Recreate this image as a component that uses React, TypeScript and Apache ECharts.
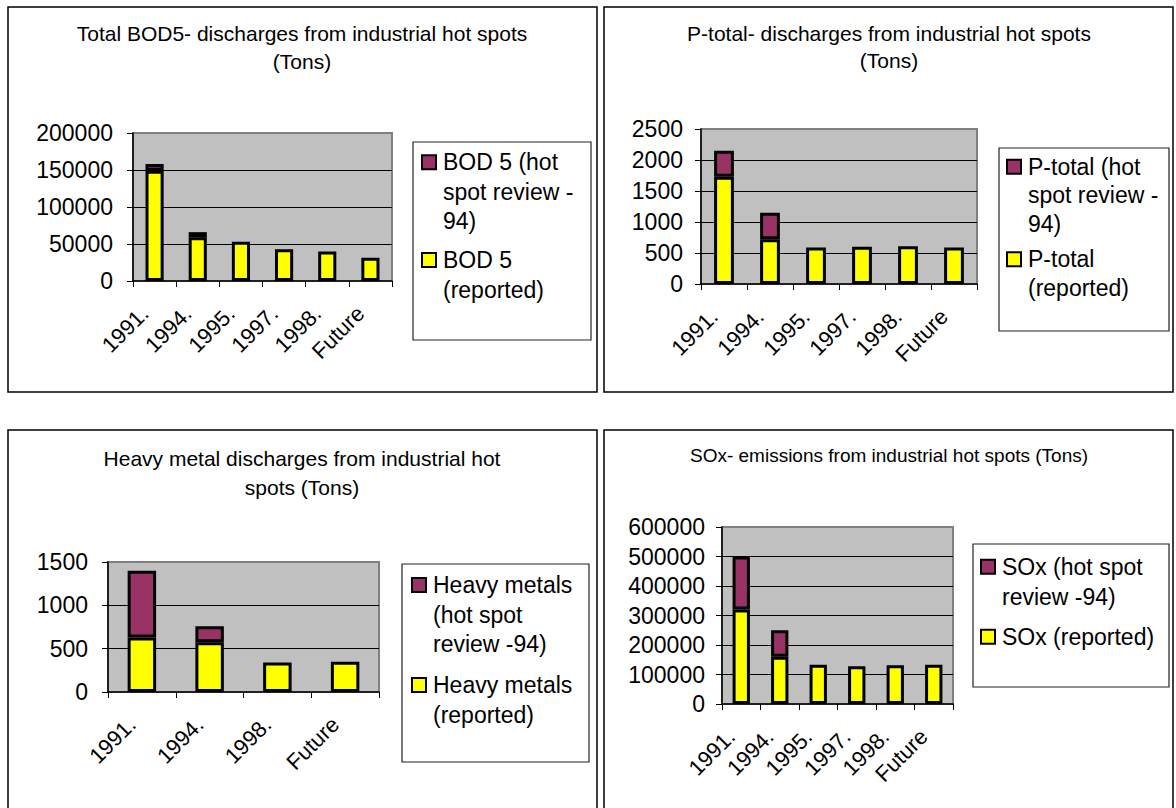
import { useEffect, useRef } from 'react';
import * as echarts from 'echarts';

const FONT = "'Liberation Sans', Arial, sans-serif";

// Categories
const yearsSix = ['1991.', '1994.', '1995.', '1997.', '1998.', 'Future'];
const yearsFour = ['1991.', '1994.', '1998.', 'Future'];

// BOD5 (tons)
const bodReported = [149000, 59000, 53000, 43000, 40000, 31500];
const bodHotSpot = [9000, 7000, null, null, null, null];
// P-total (tons)
const pReported = [1730, 720, 590, 600, 610, 590];
const pHotSpot = [420, 430, null, null, null, null];
// Heavy metals (tons)
const hmReported = [630, 575, 340, 350];
const hmHotSpot = [770, 185, null, null];
// SOx (tons)
const soxReported = [320000, 160000, 133000, 128000, 131000, 133000];
const soxHotSpot = [180000, 90000, null, null, null, null];

// Value-axis ranges [min, max, interval]
const bodAxis = [0, 200000, 50000];
const pAxis = [0, 2500, 500];
const hmAxis = [0, 1500, 500];
const soxAxis = [0, 600000, 100000];

// Titles
const bodTitle = 'Total BOD5- discharges from industrial hot spots\n(Tons)';
const pTitle = 'P-total- discharges from industrial hot spots\n(Tons)';
const hmTitle = 'Heavy metal discharges from industrial hot\nspots (Tons)';
const soxTitle = 'SOx- emissions from industrial hot spots (Tons)';

// Series names / legend labels
const bodNames = ['BOD 5 (hot spot review -94)', 'BOD 5 (reported)'];
const bodLegend = ['BOD 5 (hot\nspot review -\n94)', 'BOD 5\n(reported)'];
const pNames = ['P-total (hot spot review -94)', 'P-total (reported)'];
const pLegend = ['P-total (hot\nspot review -\n94)', 'P-total\n(reported)'];
const hmNames = ['Heavy metals (hot spot review -94)', 'Heavy metals (reported)'];
const hmLegend = ['Heavy metals\n(hot spot\nreview -94)', 'Heavy metals\n(reported)'];
const soxNames = ['SOx (hot spot review -94)', 'SOx (reported)'];
const soxLegend = ['SOx (hot spot\nreview -94)', 'SOx (reported)'];

const HOT_COLOR = '#993366';
const REP_COLOR = '#FFFF00';

type Panel = {
  cats: string[];
  reported: (number | null)[];
  hot: (number | null)[];
  axis: number[];
  title: string;
  titleX: number;
  titleY: number;
  titleLH: number;
  titleSize: number;
  names: string[];
  legend: string[];
  grid: { left: number; top: number; width: number; height: number };
  yMargin: number;
  barWidth: string;
  box: { x: number; y: number; w: number; h: number };
  markerX: number;
  textX: number;
  entryY: number[];
  legendLH: number;
};

const panels: Panel[] = [
  {
    cats: yearsSix, reported: bodReported, hot: bodHotSpot, axis: bodAxis,
    title: bodTitle, titleX: 302, titleY: 33.3, titleLH: 28.4, titleSize: 21,
    names: bodNames, legend: bodLegend,
    grid: { left: 133, top: 133, width: 259, height: 148 }, yMargin: 20, barWidth: '42%',
    box: { x: 413, y: 142, w: 178, h: 198 }, markerX: 422, textX: 443, entryY: [162.3, 260], legendLH: 29.5,
  },
  {
    cats: yearsSix, reported: pReported, hot: pHotSpot, axis: pAxis,
    title: pTitle, titleX: 889, titleY: 33.3, titleLH: 27, titleSize: 21,
    names: pNames, legend: pLegend,
    grid: { left: 701, top: 129, width: 276, height: 155 }, yMargin: 18, barWidth: '43%',
    box: { x: 999, y: 148, w: 170, h: 183 }, markerX: 1007, textX: 1028, entryY: [166.7, 259.3], legendLH: 28.5,
  },
  {
    cats: yearsFour, reported: hmReported, hot: hmHotSpot, axis: hmAxis,
    title: hmTitle, titleX: 302, titleY: 458.3, titleLH: 29, titleSize: 21,
    names: hmNames, legend: hmLegend,
    grid: { left: 108, top: 562, width: 271, height: 130 }, yMargin: 20, barWidth: '42%',
    box: { x: 402, y: 564, w: 187, h: 198 }, markerX: 412, textX: 433, entryY: [585, 685], legendLH: 29.5,
  },
  {
    cats: yearsSix, reported: soxReported, hot: soxHotSpot, axis: soxAxis,
    title: soxTitle, titleX: 889, titleY: 455, titleLH: 28, titleSize: 19,
    names: soxNames, legend: soxLegend,
    grid: { left: 722, top: 527, width: 231, height: 177 }, yMargin: 17, barWidth: '45%',
    box: { x: 973, y: 544, w: 196, h: 143 }, markerX: 981, textX: 1002, entryY: [566.7, 636.7], legendLH: 30,
  },
];

const panelFrames = [
  { x: 8, y: 7, w: 589, h: 385 },
  { x: 604, y: 7, w: 569, h: 385 },
  { x: 8, y: 430, w: 589, h: 400 },
  { x: 604, y: 430, w: 569, h: 400 },
];

function buildOption() {
  const grid: any[] = [];
  const xAxis: any[] = [];
  const yAxis: any[] = [];
  const series: any[] = [];
  const graphic: any[] = [];

  panelFrames.forEach((f) => {
    graphic.push({
      type: 'rect', silent: true, z: -10,
      shape: { x: f.x, y: f.y, width: f.w, height: f.h },
      style: { fill: '#fff', stroke: '#000', lineWidth: 1.5 },
    });
  });

  panels.forEach((p, i) => {
    grid.push({
      ...p.grid,
      show: true,
      backgroundColor: '#C0C0C0',
      borderColor: '#808080',
      borderWidth: 2,
      containLabel: false,
    });
    xAxis.push({
      type: 'category',
      gridIndex: i,
      data: p.cats,
      boundaryGap: true,
      axisLine: { show: true, lineStyle: { color: '#000', width: 1.5 } },
      axisTick: { show: true, length: 6, alignWithLabel: false, lineStyle: { color: '#000', width: 1 } },
      axisLabel: {
        rotate: 45, interval: 0, margin: 19, padding: [0, 14, 0, 0],
        fontSize: 22, fontFamily: FONT, color: '#000',
      },
      splitLine: { show: false },
    });
    yAxis.push({
      type: 'value',
      gridIndex: i,
      min: p.axis[0], max: p.axis[1], interval: p.axis[2],
      axisLine: { show: true, lineStyle: { color: '#000', width: 1.5 } },
      axisTick: { show: true, length: 6, lineStyle: { color: '#000', width: 1 } },
      axisLabel: {
        margin: p.yMargin, fontSize: 23, fontFamily: FONT, color: '#000',
        formatter: (v: number) => String(v),
      },
      splitLine: { show: true, showMinLine: false, showMaxLine: false, lineStyle: { color: '#000', width: 1 } },
    });
    series.push({
      type: 'bar', name: p.names[1], xAxisIndex: i, yAxisIndex: i, stack: 's' + i,
      data: p.reported, barWidth: p.barWidth, silent: true,
      itemStyle: { color: REP_COLOR, borderColor: '#000', borderWidth: 3 },
    });
    series.push({
      type: 'bar', name: p.names[0], xAxisIndex: i, yAxisIndex: i, stack: 's' + i,
      data: p.hot, barWidth: p.barWidth, silent: true,
      itemStyle: { color: HOT_COLOR, borderColor: '#000', borderWidth: 3 },
    });

    // Title
    graphic.push({
      type: 'text', silent: true,
      x: p.titleX, y: p.titleY - p.titleLH / 2,
      style: {
        text: p.title, align: 'center', verticalAlign: 'top',
        fontSize: p.titleSize, fontFamily: FONT, fill: '#000', lineHeight: p.titleLH,
      },
    });

    // Legend box
    graphic.push({
      type: 'rect', silent: true,
      shape: { x: p.box.x, y: p.box.y, width: p.box.w, height: p.box.h },
      style: { fill: '#fff', stroke: '#222', lineWidth: 1.2 },
    });
    const colors = [HOT_COLOR, REP_COLOR];
    p.legend.forEach((txt, k) => {
      const cy = p.entryY[k];
      graphic.push({
        type: 'rect', silent: true,
        shape: { x: p.markerX, y: cy - 7, width: 14, height: 14 },
        style: { fill: colors[k], stroke: '#000', lineWidth: 2 },
      });
      graphic.push({
        type: 'text', silent: true,
        x: p.textX, y: cy - p.legendLH / 2,
        style: {
          text: txt, align: 'left', verticalAlign: 'top',
          fontSize: 23, fontFamily: FONT, fill: '#000', lineHeight: p.legendLH,
        },
      });
    });
  });

  return {
    animation: false,
    backgroundColor: '#fff',
    grid, xAxis, yAxis, series, graphic,
  };
}

export default function App() {
  const ref = useRef<HTMLDivElement>(null);
  useEffect(() => {
    if (!ref.current) return;
    const chart = echarts.init(ref.current, undefined, { renderer: 'svg' });
    chart.setOption(buildOption() as any);
    return () => chart.dispose();
  }, []);
  return (
    <div
      ref={ref}
      style={{ position: 'absolute', left: 0, top: 0, width: 1176, height: 808, background: '#fff' }}
    />
  );
}
